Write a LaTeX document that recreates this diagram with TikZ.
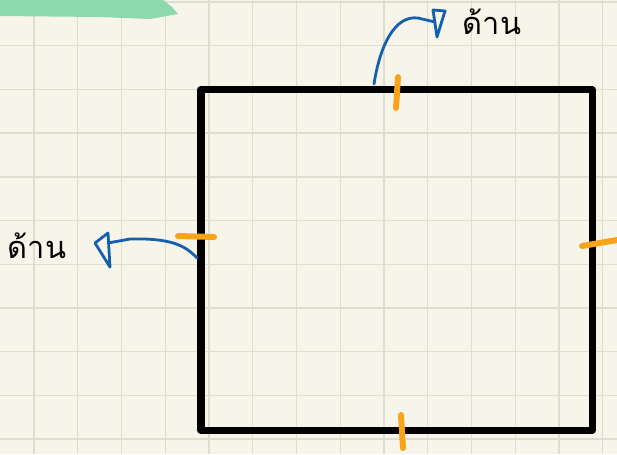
\documentclass[tikz,border=0pt]{standalone}
\usepackage{fontspec}
\newfontfamily\thaifont[Script=Thai]{Loma}
\usetikzlibrary{positioning,arrows.meta,calc}
\definecolor{paper}{HTML}{F7F5E9}
\definecolor{gridln}{HTML}{DFDDD0}
\definecolor{mint}{HTML}{8DD9AE}
\definecolor{tickor}{HTML}{F9A31B}
\definecolor{penblue}{HTML}{1560AD}
\tikzset{
  sqline/.style={line width=4pt,black,line join=round},
  tickmk/.style={line width=3.4pt,tickor,line cap=round},
  bluepen/.style={line width=1.6pt,penblue,line cap=round,line join=round},
  dgrid/.style={line width=0.8pt,gridln},
  lbl/.style={font=\thaifont\fontsize{17.5}{20}\selectfont,inner sep=0pt},
}
\begin{document}
\begin{tikzpicture}[x=0.02cm,y=-0.02cm]
  % paper and grid
  \fill[paper] (0,0) rectangle (617,454);
  \useasboundingbox (0,0) rectangle (617,454);
  \foreach \i in {0,...,13} \draw[dgrid] ({34+43.75*\i},0) -- ({34+43.75*\i},454);
  \foreach \j in {0,...,10} \draw[dgrid] (0,{2+43.7*\j}) -- (617,{2+43.7*\j});
  % highlighter stroke
  \fill[mint] (0,0) -- (163,0) -- (172,7) -- (178,14) -- (150,19) -- (100,17) -- (0,16) -- cycle;
  % the square
  \coordinate (sqnw) at (201,89.5);
  \coordinate (sqse) at (592,430.5);
  \draw[sqline] (sqnw) rectangle (sqse);
  % side marks
  \draw[tickmk] (398,77) -- (396,108);
  \draw[tickmk] (178,236) -- (214,237);
  \draw[tickmk] (582,246) -- (617,240);
  \draw[tickmk] (401,415) -- (403,448);
  % labels
  \node[lbl] (lbltop) at (492,22) {ด้าน};
  \node[lbl] (lblleft) at (37,246) {ด้าน};
  % pointers
  \coordinate (topfoot) at (374,84);
  \coordinate (tophead) at (435,22);
  \coordinate (leftfoot) at (197,258);
  \coordinate (lefthead) at (108,243);
  \draw[bluepen] (topfoot) .. controls (380,45) and (395,15) .. (418,18) -- (tophead);
  \draw[bluepen] (433,10) -- (445,11) -- (437,37) -- cycle;
  \draw[bluepen] (leftfoot) .. controls (185,245) and (170,238) .. (130,239) -- (lefthead);
  \draw[bluepen] (95,243) -- (108,233) -- (110,267) -- cycle;
\end{tikzpicture}
\end{document}
